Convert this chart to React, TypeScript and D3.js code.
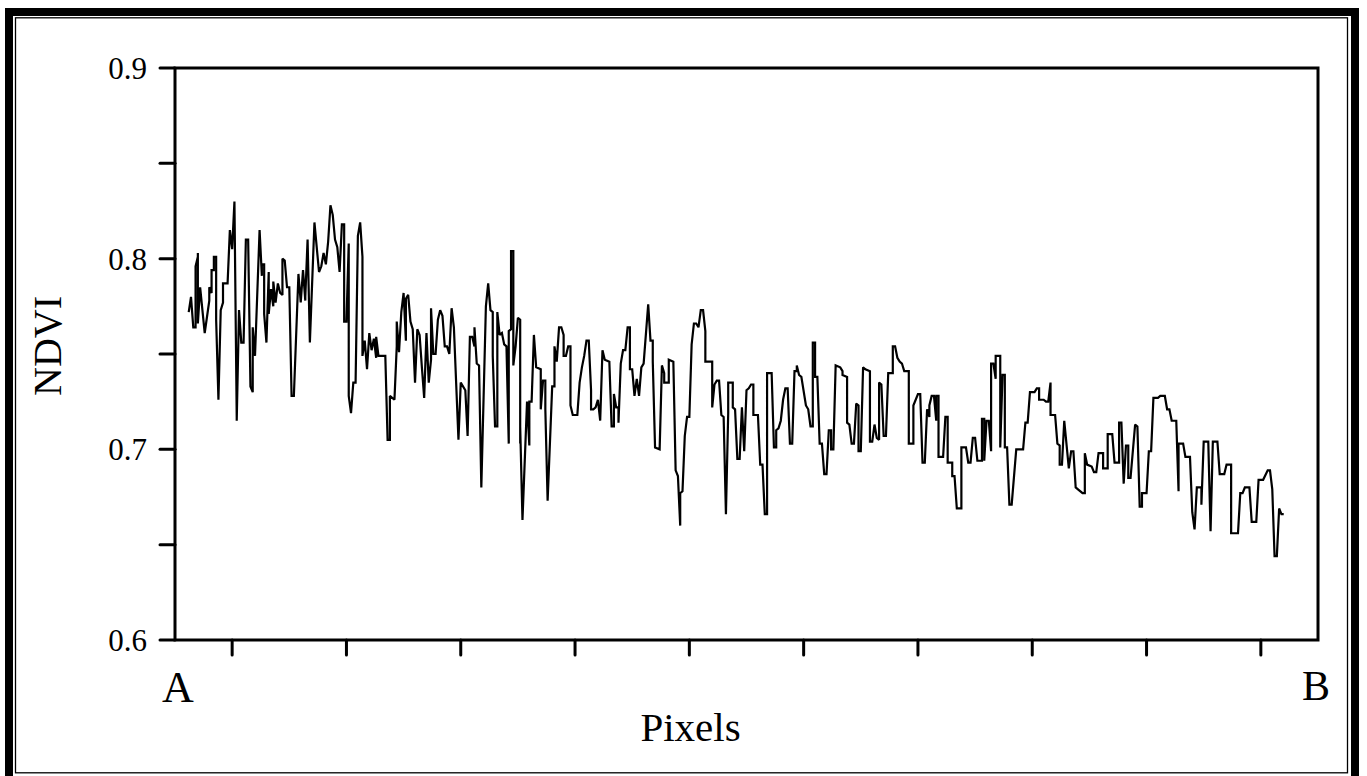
import React from 'react';
import * as d3 from 'd3';

// profile position (pixel index along A-B transect) and NDVI
const pixelIdx = [
  31, 32, 33, 34, 34, 35, 35, 35, 36, 38, 40, 40, 41, 41, 42, 42, 43, 43, 44, 45, 46, 46, 48, 49, 50, 51, 52, 52, 53, 54,
  55, 56, 57, 58, 59, 59, 60, 62, 63, 63, 64, 64, 65, 66, 66, 67, 68, 68, 69, 70, 71, 72, 72, 73, 74, 75, 76, 77, 79, 80,
  81, 82, 82, 83, 84, 86, 88, 89, 90, 91, 92, 93, 94, 95, 96, 97, 98, 99, 99, 100, 101, 101, 102, 103, 104, 105, 106, 107, 107, 108,
  109, 110, 111, 112, 113, 113, 114, 117, 118, 119, 119, 121, 122, 122, 123, 124, 125, 126, 126, 127, 128, 129, 130, 131, 132, 133, 134, 135, 136, 137,
  137, 138, 139, 140, 141, 142, 143, 144, 145, 146, 147, 149, 150, 152, 153, 154, 155, 156, 156, 157, 158, 159, 161, 162, 163, 164, 164, 165, 166, 166,
  167, 168, 169, 170, 171, 171, 172, 172, 173, 173, 174, 175, 176, 176, 176, 177, 179, 180, 180, 181, 182, 183, 185, 185, 186, 187, 187, 188, 190, 191,
  191, 192, 193, 194, 195, 195, 196, 197, 198, 198, 199, 201, 202, 203, 204, 205, 206, 207, 207, 208, 209, 210, 211, 212, 213, 215, 216, 217, 217, 218,
  219, 219, 220, 221, 222, 223, 224, 224, 225, 226, 227, 228, 229, 230, 232, 233, 234, 234, 235, 237, 238, 239, 239, 241, 241, 243, 244, 245, 246, 246,
  247, 248, 249, 250, 251, 252, 253, 254, 255, 256, 257, 257, 259, 260, 260, 261, 262, 263, 264, 265, 266, 267, 267, 269, 269, 270, 271, 272, 273, 274,
  275, 276, 277, 278, 278, 280, 281, 282, 283, 284, 284, 286, 287, 288, 288, 289, 290, 291, 292, 293, 294, 295, 296, 297, 297, 298, 299, 301, 302, 303,
  304, 304, 305, 305, 306, 307, 308, 309, 310, 311, 312, 312, 313, 314, 316, 317, 317, 319, 319, 320, 321, 322, 323, 324, 324, 325, 326, 327, 329, 329,
  330, 331, 332, 333, 333, 334, 335, 336, 337, 339, 339, 340, 341, 342, 343, 344, 346, 346, 348, 348, 350, 351, 352, 353, 354, 355, 355, 356, 357, 358,
  358, 359, 359, 361, 362, 363, 363, 365, 365, 366, 367, 369, 369, 371, 372, 373, 374, 375, 376, 378, 378, 379, 379, 380, 381, 382, 382, 383, 384, 384,
  386, 386, 387, 388, 388, 389, 390, 391, 393, 396, 397, 398, 399, 401, 402, 403, 403, 405, 406, 407, 408, 408, 410, 411, 412, 412, 413, 414, 416, 417,
  418, 419, 420, 422, 423, 423, 424, 426, 427, 428, 429, 431, 431, 433, 433, 435, 436, 438, 438, 439, 440, 441, 442, 442, 443, 445, 446, 447, 448, 448,
  450, 451, 452, 453, 455, 456, 458, 459, 460, 461, 463, 464, 464, 466, 467, 469, 470, 471, 472, 474, 474, 475, 477, 478, 479, 481, 482, 484, 485, 487,
  487, 490, 491, 492, 493, 495, 496, 498, 499, 501, 503, 504, 505, 506, 507, 508, 509, 510,
];

const ndvi = [
  0.772, 0.78, 0.764, 0.764, 0.796, 0.801, 0.803, 0.766, 0.785, 0.761, 0.778, 0.785, 0.782, 0.794, 0.794, 0.801, 0.801, 0.768, 0.726, 0.773, 0.777, 0.787, 0.787, 0.815, 0.805, 0.83, 0.717, 0.715, 0.773, 0.756,
  0.756, 0.81, 0.81, 0.733, 0.73, 0.764, 0.749, 0.815, 0.791, 0.797, 0.797, 0.771, 0.756, 0.793, 0.771, 0.784, 0.775, 0.788, 0.777, 0.787, 0.782, 0.781, 0.8, 0.799, 0.785, 0.785, 0.728, 0.728, 0.792, 0.777,
  0.794, 0.778, 0.78, 0.81, 0.756, 0.819, 0.793, 0.796, 0.803, 0.797, 0.809, 0.828, 0.823, 0.81, 0.806, 0.793, 0.818, 0.818, 0.767, 0.767, 0.808, 0.728, 0.719, 0.735, 0.735, 0.812, 0.819, 0.801, 0.749, 0.757,
  0.742, 0.761, 0.752, 0.758, 0.748, 0.759, 0.749, 0.749, 0.705, 0.705, 0.728, 0.726, 0.754, 0.767, 0.751, 0.772, 0.782, 0.757, 0.779, 0.781, 0.767, 0.763, 0.735, 0.763, 0.76, 0.743, 0.727, 0.761, 0.735, 0.747,
  0.774, 0.75, 0.75, 0.768, 0.773, 0.77, 0.754, 0.754, 0.75, 0.774, 0.764, 0.705, 0.735, 0.731, 0.707, 0.759, 0.759, 0.754, 0.764, 0.745, 0.744, 0.68, 0.775, 0.787, 0.773, 0.772, 0.749, 0.712, 0.712, 0.772,
  0.76, 0.761, 0.755, 0.754, 0.703, 0.762, 0.763, 0.804, 0.804, 0.744, 0.754, 0.769, 0.768, 0.703, 0.712, 0.663, 0.725, 0.702, 0.725, 0.725, 0.76, 0.743, 0.742, 0.721, 0.736, 0.736, 0.721, 0.673, 0.733, 0.733,
  0.754, 0.746, 0.764, 0.764, 0.76, 0.749, 0.749, 0.754, 0.754, 0.723, 0.718, 0.718, 0.735, 0.743, 0.749, 0.757, 0.757, 0.731, 0.721, 0.721, 0.722, 0.726, 0.715, 0.752, 0.747, 0.746, 0.712, 0.712, 0.729, 0.722,
  0.722, 0.714, 0.745, 0.752, 0.752, 0.764, 0.764, 0.742, 0.742, 0.728, 0.737, 0.728, 0.743, 0.745, 0.776, 0.757, 0.757, 0.746, 0.701, 0.7, 0.744, 0.74, 0.735, 0.735, 0.747, 0.746, 0.689, 0.686, 0.66, 0.677,
  0.678, 0.707, 0.717, 0.717, 0.755, 0.766, 0.766, 0.764, 0.773, 0.773, 0.762, 0.746, 0.746, 0.746, 0.722, 0.734, 0.736, 0.736, 0.718, 0.717, 0.666, 0.719, 0.735, 0.735, 0.722, 0.721, 0.695, 0.695, 0.722, 0.699,
  0.731, 0.732, 0.734, 0.734, 0.718, 0.718, 0.692, 0.692, 0.666, 0.666, 0.74, 0.74, 0.701, 0.701, 0.71, 0.711, 0.715, 0.726, 0.732, 0.732, 0.703, 0.703, 0.741, 0.741, 0.744, 0.739, 0.738, 0.723, 0.721, 0.712,
  0.712, 0.756, 0.756, 0.738, 0.738, 0.703, 0.703, 0.687, 0.687, 0.71, 0.71, 0.7, 0.7, 0.744, 0.743, 0.741, 0.739, 0.738, 0.714, 0.713, 0.703, 0.703, 0.724, 0.723, 0.699, 0.699, 0.743, 0.742, 0.741, 0.704,
  0.704, 0.713, 0.706, 0.705, 0.735, 0.734, 0.707, 0.707, 0.74, 0.74, 0.754, 0.754, 0.748, 0.746, 0.745, 0.741, 0.741, 0.703, 0.703, 0.723, 0.729, 0.729, 0.693, 0.693, 0.721, 0.717, 0.723, 0.728, 0.728, 0.715,
  0.728, 0.728, 0.696, 0.696, 0.717, 0.717, 0.693, 0.693, 0.686, 0.686, 0.669, 0.669, 0.701, 0.701, 0.693, 0.693, 0.706, 0.706, 0.694, 0.694, 0.716, 0.716, 0.694, 0.715, 0.715, 0.699, 0.745, 0.745, 0.737, 0.749,
  0.749, 0.701, 0.739, 0.739, 0.701, 0.701, 0.671, 0.671, 0.7, 0.7, 0.714, 0.714, 0.73, 0.73, 0.732, 0.732, 0.726, 0.726, 0.725, 0.725, 0.735, 0.718, 0.718, 0.703, 0.702, 0.692, 0.692, 0.715, 0.69, 0.699,
  0.699, 0.68, 0.679, 0.677, 0.677, 0.698, 0.692, 0.691, 0.688, 0.688, 0.698, 0.698, 0.69, 0.69, 0.708, 0.708, 0.693, 0.693, 0.714, 0.714, 0.682, 0.702, 0.702, 0.685, 0.685, 0.713, 0.712, 0.67, 0.67, 0.677,
  0.677, 0.699, 0.699, 0.727, 0.727, 0.728, 0.728, 0.721, 0.721, 0.715, 0.715, 0.678, 0.703, 0.703, 0.696, 0.696, 0.667, 0.658, 0.68, 0.68, 0.671, 0.704, 0.704, 0.657, 0.704, 0.704, 0.687, 0.687, 0.692, 0.692,
  0.656, 0.656, 0.677, 0.677, 0.68, 0.68, 0.662, 0.662, 0.684, 0.684, 0.689, 0.689, 0.679, 0.644, 0.644, 0.669, 0.666, 0.666,
];

const yTicks = [0.6, 0.65, 0.7, 0.75, 0.8, 0.85, 0.9];
const yLabels = ['0.6', '0.7', '0.8', '0.9'];
const xTicks = [50, 100, 150, 200, 250, 300, 350, 400, 450, 500];
const endLabels = ['A', 'B'];

const W = 1367;
const H = 776;
const FONT = '"Liberation Serif", "Times New Roman", serif';

export default function App() {
  const margin = { top: 68, right: 49, bottom: 136, left: 175 };
  const x = d3.scaleLinear().domain([25, 525]).range([margin.left, W - margin.right]);
  const y = d3.scaleLinear().domain([0.6, 0.9]).range([H - margin.bottom, margin.top]);

  const pts: [number, number][] = pixelIdx.map((p, i) => [p, ndvi[i]]);
  const line = d3
    .line<[number, number]>()
    .x((d) => x(d[0]))
    .y((d) => y(d[1]));

  const x0 = margin.left;
  const x1 = W - margin.right;
  const y0 = H - margin.bottom;
  const y1 = margin.top;

  return (
    <svg
      width={W}
      height={H}
      style={{ position: 'absolute', left: 0, top: 0, background: '#fff' }}
      fontFamily={FONT}
    >
      {/* double frame */}
      <rect x={9} y={12} width={1346} height={775} fill="none" stroke="#000" strokeWidth={8} />
      <rect x={15.5} y={17.8} width={1332} height={755} fill="none" stroke="#000" strokeWidth={1.3} />

      {/* data */}
      <path d={line(pts) || ''} fill="none" stroke="#000" strokeWidth={2.2} strokeLinejoin="miter" strokeMiterlimit={2} />

      {/* plot box */}
      <rect x={x0} y={y1} width={x1 - x0} height={y0 - y1} fill="none" stroke="#000" strokeWidth={3} />

      {/* y ticks */}
      {yTicks.map((t) => (
        <line key={t} x1={x0 - 15} x2={x0} y1={y(t)} y2={y(t)} stroke="#000" strokeWidth={3} strokeLinecap="round" />
      ))}
      {yLabels.map((t) => (
        <text key={t} x={x0 - 28} y={y(+t)} dy="0.35em" textAnchor="end" fontSize={31}>
          {t}
        </text>
      ))}

      {/* x ticks */}
      {xTicks.map((t) => (
        <line key={t} x1={x(t)} x2={x(t)} y1={y0} y2={y0 + 15} stroke="#000" strokeWidth={3} strokeLinecap="round" />
      ))}

      <text x={x0 + 3} y={702} textAnchor="middle" fontSize={44}>
        {endLabels[0]}
      </text>
      <text x={1316} y={700} textAnchor="middle" fontSize={42}>
        {endLabels[1]}
      </text>

      <text x={(x0 + x1) / 2 - 56} y={741} textAnchor="middle" fontSize={41}>
        Pixels
      </text>
      <text
        transform={`translate(61, 346)rotate(-90)`}
        textAnchor="middle"
        fontSize={40}
      >
        NDVI
      </text>
    </svg>
  );
}
